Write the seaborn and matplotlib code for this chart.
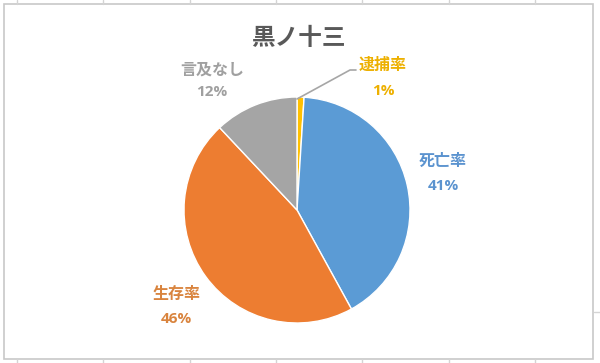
import matplotlib
matplotlib.use("Agg")
import matplotlib.pyplot as plt
from matplotlib.patches import Rectangle
from matplotlib.lines import Line2D
import seaborn as sns

# ---- data ----
categories = ["逮捕率", "死亡率", "生存率", "言及なし"]
values = [1, 41, 46, 12]
pct_labels = ["1%", "41%", "46%", "12%"]
title = "黒ノ十三"

slice_colors = ["#FFC000", "#5B9BD5", "#ED7D31", "#A5A5A5"]
text_colors = ["#EDB000", "#5B93CF", "#D9843E", "#A0A0A0"]

sns.set_theme(style="white")
plt.rcParams['font.family'] = ['Noto Sans CJK JP', 'DejaVu Sans']

W, H = 600, 363
fig = plt.figure(figsize=(W / 100, H / 100), dpi=100)
fig.patch.set_facecolor("white")

# spreadsheet grid outside chart box
for gx in [17, 103, 190, 276, 362, 449, 535]:
    fig.add_artist(Line2D([gx / W, gx / W], [1 - 4 / H, 1], color="#D4D4D4", lw=1))
    fig.add_artist(Line2D([gx / W, gx / W], [0, 1 - 359 / H], color="#D4D4D4", lw=1))
fig.add_artist(Line2D([594 / W, 1], [1 - 312 / H, 1 - 312 / H], color="#D4D4D4", lw=1))
# chart box
fig.add_artist(Rectangle((4 / W, 1 - 359 / H), (593 - 4) / W, (359 - 4) / H,
                         transform=fig.transFigure, fill=False,
                         edgecolor="#C8C8C8", lw=1.2))

cx, cy, r = 297, 210, 113
ax = fig.add_axes([(cx - r) / W, (H - cy - r) / H, 2 * r / W, 2 * r / H])
ax.pie(values, colors=slice_colors, startangle=90, counterclock=False,
       radius=1.0, wedgeprops=dict(edgecolor="white", linewidth=1.0))
ax.set_xlim(-1, 1)
ax.set_ylim(-1, 1)
ax.set_aspect("equal")
ax.axis("off")

# label layout (pixel positions of name / percent)
label_pos = {
    "逮捕率": ((383, 65), (383, 91)),
    "死亡率": ((443, 161), (443, 186)),
    "生存率": ((177, 294), (176, 319)),
    "言及なし": ((212, 70), (212, 92)),
}

def to_data(px, py):
    return (px - cx) / r, (cy - py) / r

for cat, pct, col in zip(categories, pct_labels, text_colors):
    (nx, ny), (qx, qy) = label_pos[cat]
    x, y = to_data(nx, ny)
    ax.text(x, y, cat, ha="center", va="center", fontsize=11.5,
            fontweight="bold", color=col, clip_on=False)
    x, y = to_data(qx, qy)
    ax.text(x, y, pct, ha="center", va="center", fontsize=11,
            fontweight="bold", color=col, clip_on=False,
            family=['Open Sans', 'DejaVu Sans'])

# leader line for small slice
lx, ly = zip(to_data(297, 99), to_data(350, 70), to_data(356, 70))
ax.plot(lx, ly, color="#A6A6A6", lw=1.2, clip_on=False)

fig.text(298 / W, 1 - 38 / H, title, ha="center", va="center",
         fontsize=17, fontweight="bold", color="#595959")

fig.savefig("out.png", dpi=100, facecolor="white")
